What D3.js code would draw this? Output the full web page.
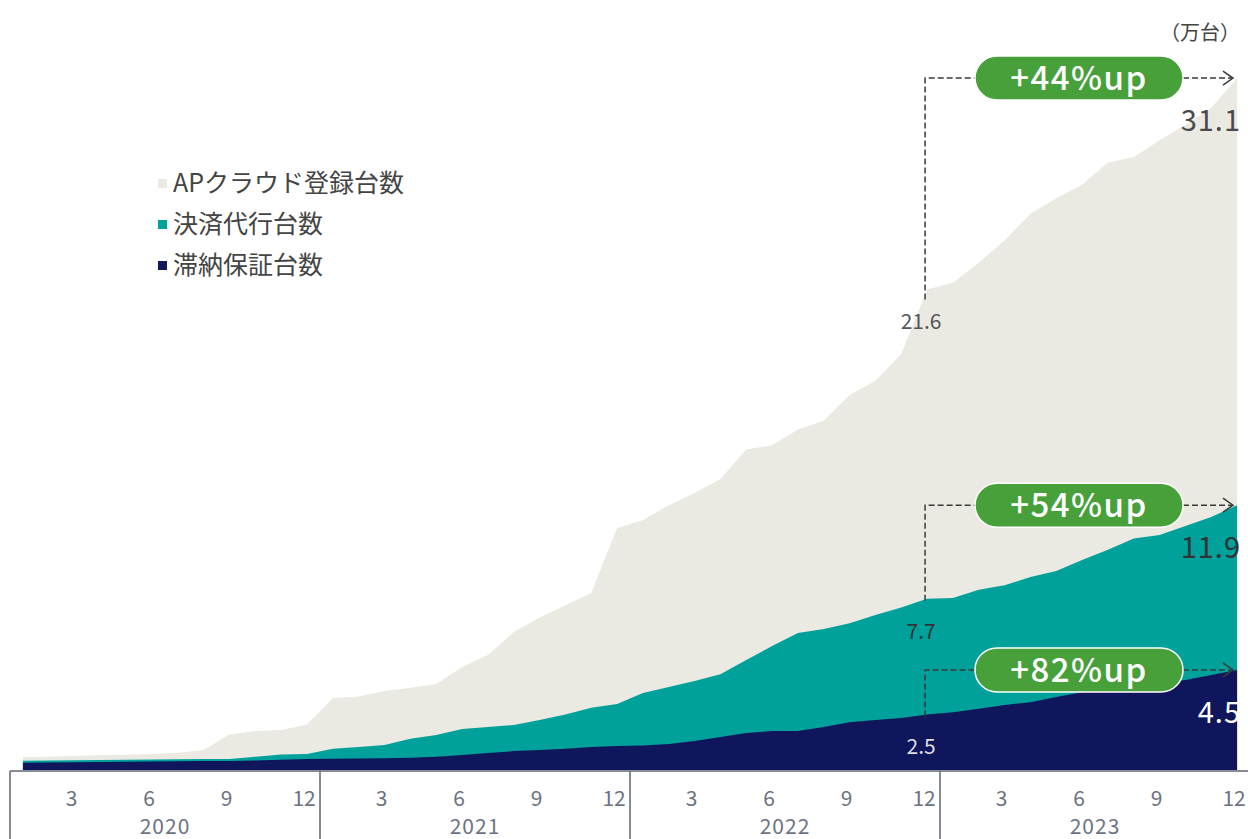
<!DOCTYPE html>
<html>
<head>
<meta charset="utf-8">
<script src="https://cdn.jsdelivr.net/npm/d3@7"></script>
<style>
  body { margin: 0; background: #fff; }
  svg { display: block; font-family: "Noto Sans CJK JP", "Noto Sans", sans-serif; }
</style>
</head>
<body>
<svg id="chart" width="1248" height="839"></svg>
<script>
const years = ["2020", "2021", "2022", "2023"];
const monthTicks = [3, 6, 9, 12];

// 万台, Jan 2020 .. Dec 2023
const apCloud = [0.58, 0.6, 0.63, 0.67, 0.68, 0.72, 0.78, 0.9, 1.6, 1.75, 1.8, 2.05,
    3.24, 3.3, 3.55, 3.7, 3.87, 4.63, 5.17, 6.2, 6.85, 7.4, 7.96, 10.88,
    11.24, 11.9, 12.45, 13.08, 14.4, 14.6, 15.3, 15.7, 16.85, 17.5, 18.7, 21.6,
    21.9, 22.8, 23.8, 25.0, 25.7, 26.3, 27.3, 27.55, 28.3, 29.0, 29.75, 31.1];
const settlement = [0.42, 0.43, 0.44, 0.45, 0.46, 0.47, 0.48, 0.49, 0.5, 0.6, 0.7, 0.72,
    0.95, 1.03, 1.12, 1.4, 1.57, 1.84, 1.93, 2.02, 2.25, 2.5, 2.8, 2.97,
    3.46, 3.73, 4.0, 4.3, 4.94, 5.57, 6.16, 6.34, 6.6, 6.97, 7.3, 7.7,
    7.73, 8.1, 8.3, 8.67, 8.94, 9.44, 9.9, 10.4, 10.56, 10.97, 11.37, 11.9];
const guarantee = [0.33, 0.34, 0.35, 0.36, 0.37, 0.38, 0.39, 0.4, 0.41, 0.43, 0.46, 0.49,
    0.51, 0.52, 0.53, 0.55, 0.6, 0.67, 0.76, 0.85, 0.9, 0.95, 1.03, 1.08,
    1.1, 1.17, 1.3, 1.48, 1.66, 1.75, 1.75, 1.93, 2.15, 2.25, 2.34, 2.5,
    2.6, 2.75, 2.92, 3.05, 3.28, 3.5, 3.68, 3.82, 3.9, 4.05, 4.27, 4.5];

const seriesNames = ["APクラウド登録台数", "決済代行台数", "滞納保証台数"];
const seriesColors = ["#eaeae3", "#00a19a", "#10165c"];
const growthLabels = ["+44%up", "+54%up", "+82%up"];
const unitLabel = "（万台）";

const svg = d3.select("#chart");

const months = [];
years.forEach(y => d3.range(1, 13).forEach(m => months.push(y + "-" + m)));

const x = d3.scaleBand()
    .domain(months)
    .range([10, 1250]);
const xc = i => x(months[i]) + x.bandwidth() / 2;

const y = d3.scaleLinear()
    .domain([0, 32])
    .range([770, 770 - 32 * 22.25]);

const series = [apCloud, settlement, guarantee];

const area = d3.area()
    .x((d, i) => xc(i))
    .y0(y(0))
    .y1(d => y(d));

svg.append("g")
    .selectAll("path")
    .data(series)
    .enter()
    .append("path")
    .attr("fill", (d, i) => seriesColors[i])
    .attr("d", d => area(d));

// axis frame
const axisColor = "#5d6475";
svg.append("line")
    .attr("x1", 10).attr("x2", 1248)
    .attr("y1", 771).attr("y2", 771)
    .attr("stroke", axisColor).attr("stroke-width", 1.5);

svg.append("g")
    .selectAll("line")
    .data(years)
    .enter()
    .append("line")
    .attr("x1", d => x(d + "-1")).attr("x2", d => x(d + "-1"))
    .attr("y1", 771).attr("y2", 839)
    .attr("stroke", axisColor).attr("stroke-width", 1.5);

const tickData = [];
years.forEach(yr => monthTicks.forEach(m => tickData.push({ key: yr + "-" + m, m: m })));

svg.append("g")
    .selectAll("text")
    .data(tickData)
    .enter()
    .append("text")
    .attr("x", d => x(d.key) + x.bandwidth() / 2 - 3)
    .attr("y", 806)
    .attr("text-anchor", "middle")
    .attr("fill", "#6b7282")
    .style("font-size", "21px")
    .text(d => d.m);

svg.append("g")
    .selectAll("text")
    .data(years)
    .enter()
    .append("text")
    .attr("x", d => (x(d + "-1") + x(d + "-12") + x.bandwidth()) / 2)
    .attr("y", 834)
    .attr("text-anchor", "middle")
    .attr("fill", "#6b7282")
    .style("font-size", "21px")
    .style("letter-spacing", "1px")
    .text(d => d);

// legend
const legend = svg.append("g")
    .selectAll("g")
    .data(seriesNames)
    .enter()
    .append("g")
    .attr("transform", (d, i) => `translate(158, ${183 + i * 41})`);
legend.append("rect")
    .attr("x", 0).attr("y", -4)
    .attr("width", 9).attr("height", 9)
    .attr("fill", (d, i) => seriesColors[i]);
legend.append("text")
    .attr("x", 15)
    .attr("y", 9)
    .attr("fill", "#444")
    .style("font-size", "25px")
    .text(d => d);

svg.append("text")
    .attr("x", 1240).attr("y", 40)
    .attr("text-anchor", "end")
    .attr("fill", "#444")
    .style("font-size", "20px")
    .text(unitLabel);

// growth annotations, Dec 2022 -> Dec 2023
const fromIdx = 35, toIdx = 47;
const startColors = ["#555", "#333", "#ddd"];
const endColors = ["#4a4a4a", "#333", "#fff"];
const dashColor = "#3a3a3a";
const pillCx = 1079, pillW = 208, pillH = 44;

series.forEach((s, i) => {
    const g = svg.append("g");
    const x0 = xc(fromIdx) - 2;
    const yTop = y(s[toIdx]);
    const yStart = y(s[fromIdx]);

    g.append("path")
        .attr("d", `M${x0},${yStart + (i === 0 ? 10 : 2)} V${yTop} H${pillCx - pillW / 2} M${pillCx + pillW / 2},${yTop} H${1232}`)
        .attr("fill", "none")
        .attr("stroke", dashColor)
        .attr("stroke-width", 1.5)
        .attr("stroke-dasharray", "6,3");
    g.append("path")
        .attr("d", `M${1223},${yTop - 7} L${1233},${yTop} L${1223},${yTop + 7}`)
        .attr("fill", "none")
        .attr("stroke", dashColor)
        .attr("stroke-width", 1.5);

    g.append("rect")
        .attr("x", pillCx - pillW / 2)
        .attr("y", yTop - pillH / 2)
        .attr("width", pillW)
        .attr("height", pillH)
        .attr("rx", 22)
        .attr("fill", "#48a03a")
        .attr("stroke", "#fff")
        .attr("stroke-width", 1.5);
    g.append("text")
        .attr("x", pillCx)
        .attr("y", yTop + 12)
        .attr("text-anchor", "middle")
        .attr("fill", "#fff")
        .style("font-size", "33px")
        .style("font-weight", "500")
        .style("letter-spacing", "1.5px")
        .text(growthLabels[i]);

    g.append("text")
        .attr("x", xc(fromIdx) - 6)
        .attr("y", yStart + 40)
        .attr("text-anchor", "middle")
        .attr("fill", startColors[i])
        .style("font-size", "21px")
        .text(s[fromIdx]);

    g.append("text")
        .attr("x", 1241)
        .attr("y", yTop + 53)
        .attr("text-anchor", "end")
        .attr("fill", endColors[i])
        .style("font-size", "29px")
        .style("letter-spacing", "1px")
        .text(s[toIdx]);
});
</script>
</body>
</html>
